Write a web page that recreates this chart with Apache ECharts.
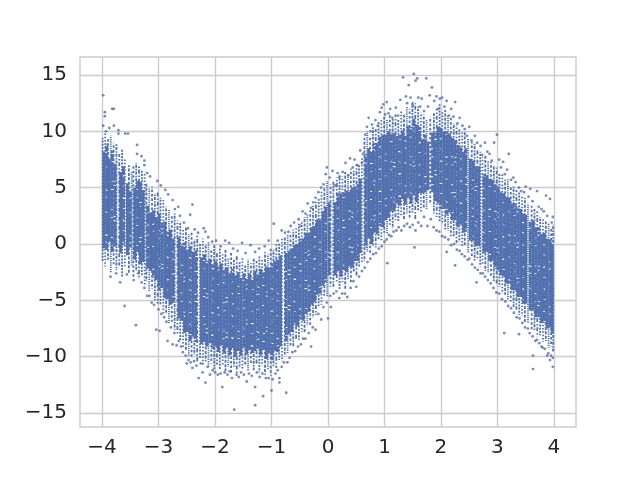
<!DOCTYPE html>
<html>
<head>
<meta charset="utf-8">
<style>html,body{margin:0;padding:0;background:#fff}#chart1{width:640px;height:480px}</style>
<script src="https://cdn.jsdelivr.net/npm/echarts@6/dist/echarts.min.js"></script>
</head>
<body>
<div id="chart1"></div>
<script>
// 图中点太密，读不出单个点：实心区按列读出上下沿 [x, low, high]，画成竖线段
let denseColumns = [
[-3.97,-0.4,8.2],[-3.92,-0.5,8.9],[-3.87,0.2,7.6],[-3.82,-0.7,8.3],[-3.77,-0.2,7.1],
[-3.67,-0.8,6.4],[-3.62,-0.1,6.9],[-3.55,-1.0,5.4],[-3.50,-0.3,4.8],
[-3.42,-1.4,5.0],[-3.37,-0.7,5.6],[-3.32,-1.8,5.5],[-3.27,-1.6,4.8],
[-3.19,-2.2,3.4],[-3.14,-2.4,2.8],[-3.09,-3.0,3.0],[-3.04,-3.2,2.4],[-2.99,-4.1,2.7],
[-2.94,-3.9,1.9],[-2.89,-4.8,2.0],[-2.84,-4.9,1.1],[-2.79,-5.4,1.3],[-2.74,-5.2,0.5],
[-2.64,-6.6,0.6],[-2.59,-6.9,0.0],[-2.54,-7.9,0.2],[-2.49,-7.8,-0.5],[-2.44,-8.6,-0.2],
[-2.39,-8.2,-0.7],[-2.34,-8.7,-0.6],[-2.24,-8.9,-1.2],[-2.19,-8.7,-0.9],[-2.14,-9.1,-1.5],
[-2.09,-8.8,-1.3],[-2.04,-9.3,-1.8],[-1.99,-9.1,-1.5],[-1.94,-9.6,-2.0],[-1.89,-9.0,-1.7],
[-1.84,-9.7,-2.3],[-1.79,-9.2,-2.0],[-1.74,-9.9,-2.6],[-1.69,-9.3,-2.2],[-1.64,-10.0,-2.8],
[-1.59,-9.5,-2.5],[-1.54,-9.9,-3.0],[-1.49,-9.2,-2.6],[-1.44,-9.8,-3.1],[-1.39,-9.4,-2.6],
[-1.34,-9.7,-3.0],[-1.29,-9.5,-2.4],[-1.24,-9.3,-2.7],[-1.19,-9.9,-2.2],[-1.14,-9.4,-2.5],
[-1.09,-10.2,-2.0],[-1.04,-9.7,-2.1],[-0.99,-10.3,-1.7],[-0.94,-9.5,-1.5],[-0.89,-9.6,-1.4],
[-0.84,-9.1,-1.0],[-0.74,-8.6,-0.8],[-0.69,-8.0,-0.6],[-0.64,-7.8,-0.4],[-0.59,-7.2,-0.1],
[-0.54,-7.3,0.0],[-0.49,-6.7,0.5],[-0.44,-6.8,0.5],[-0.39,-6.2,1.0],[-0.34,-6.0,1.0],
[-0.29,-5.4,1.5],[-0.24,-5.2,1.6],[-0.19,-4.5,2.2],[-0.14,-4.5,2.2],[-0.09,-3.7,2.9],
[-0.04,-3.4,3.3],[0.02,-2.8,3.7],[0.13,-2.8,3.7],[0.18,-2.4,4.5],[0.23,-2.9,4.5],
[0.28,-2.3,4.6],[0.33,-2.5,4.7],[0.38,-2.0,4.8],[0.43,-2.1,5.0],[0.48,-1.5,5.1],
[0.53,-1.5,5.3],[0.57,-0.8,5.8],[0.67,-0.3,8.0],[0.72,0.5,8.5],[0.77,0.0,8.2],
[0.82,1.0,9.0],[0.87,0.9,9.0],[0.92,1.6,9.5],[0.97,1.5,9.7],[1.02,2.1,9.7],
[1.07,2.3,10.0],[1.12,2.9,9.9],[1.17,2.9,9.8],[1.22,3.6,9.6],[1.27,3.4,9.7],
[1.32,4.0,10.1],[1.37,3.5,9.6],[1.42,4.1,10.5],[1.47,3.6,10.4],[1.52,4.3,11.1],
[1.57,3.7,10.6],[1.62,4.5,10.4],[1.67,4.5,9.3],[1.72,4.6,9.7],[1.77,4.8,9.1],
[1.85,4.6,9.9],[1.90,3.8,9.9],[1.95,3.6,10.4],[2.00,3.1,10.3],[2.05,3.1,10.0],
[2.10,2.6,10.0],[2.15,2.8,9.8],[2.20,2.1,9.4],[2.25,2.1,9.2],[2.30,1.5,8.8],
[2.35,1.6,8.7],[2.40,1.0,8.2],[2.44,1.1,8.5],[2.52,0.3,7.6],[2.57,0.3,7.4],
[2.62,-0.2,6.9],[2.67,-0.2,6.9],[2.76,-0.8,6.2],[2.81,-0.7,6.1],[2.86,-1.5,5.8],
[2.91,-1.5,5.7],[2.96,-2.2,5.3],[3.01,-2.3,5.1],[3.06,-2.8,4.6],[3.11,-2.9,4.5],
[3.16,-3.5,4.2],[3.21,-3.5,4.2],[3.26,-4.1,3.6],[3.31,-4.1,3.6],[3.36,-4.7,3.3],
[3.41,-4.7,3.1],[3.46,-5.3,2.7],[3.50,-5.3,2.6],[3.58,-6.0,2.1],[3.63,-5.9,2.1],
[3.68,-6.5,1.5],[3.73,-6.5,1.5],[3.78,-7.0,0.9],[3.83,-7.0,1.0],[3.88,-7.5,0.5],
[3.93,-7.4,0.4],[3.97,-7.9,0.0]
];

// 稀疏一些的列 [x, low, high]，画成点状竖线
let looseColumns = [
[-3.99,-1.5,9.4],[-3.945,-2.0,10.0],[-3.895,-1.4,9.3],[-3.845,-2.6,9.6],[-3.795,-1.8,9.0],[-3.745,-2.3,8.9],[-3.695,-1.9,8.0],[-3.645,-2.9,8.4],
[-3.595,-2.0,7.6],[-3.525,-2.6,7.0],[-3.475,-2.0,6.4],[-3.445,-3.0,6.9],[-3.395,-2.4,7.2],[-3.345,-3.1,7.0],[-3.295,-2.8,6.6],[-3.245,-3.6,6.4],
[-3.215,-3.3,5.4],[-3.165,-4.2,4.9],[-3.115,-4.0,5.1],[-3.065,-5.0,4.4],[-3.015,-5.3,4.6],[-2.965,-5.4,4.1],[-2.915,-6.2,3.9],[-2.865,-6.1,3.3],
[-2.815,-7.0,3.1],[-2.765,-6.9,2.5],[-2.715,-7.6,2.7],[-2.665,-8.0,2.1],[-2.615,-8.6,2.0],[-2.565,-9.2,1.4],[-2.515,-9.5,1.5],[-2.465,-10.0,0.9],
[-2.415,-10.1,1.1],[-2.365,-9.8,0.4],[-2.315,-10.5,0.8],[-2.265,-10.2,0.1],[-2.215,-10.8,0.5],[-2.165,-10.4,-0.1],[-2.115,-10.9,0.2],[-2.065,-10.6,-0.4],
[-2.015,-11.1,-0.1],[-1.965,-10.7,-0.7],[-1.915,-11.2,-0.4],[-1.865,-10.8,-0.9],[-1.815,-11.3,-0.5],[-1.765,-10.9,-1.2],[-1.715,-11.4,-0.8],[-1.665,-10.9,-1.4],
[-1.615,-11.5,-1.0],[-1.565,-11.0,-1.6],[-1.515,-11.2,-1.2],[-1.465,-10.8,-1.9],[-1.415,-11.3,-1.4],[-1.365,-10.7,-1.7],[-1.315,-11.2,-1.3],[-1.265,-10.7,-1.5],
[-1.215,-11.4,-1.1],[-1.165,-10.8,-1.3],[-1.115,-11.6,-0.7],[-1.065,-11.1,-0.9],[-1.015,-11.7,-0.3],[-0.965,-10.9,-0.5],[-0.915,-11.0,0.0],[-0.865,-10.3,0.1],
[-0.815,-10.4,0.5],[-0.765,-9.8,0.6],[-0.715,-9.7,0.9],[-0.665,-9.0,1.0],[-0.615,-9.1,1.3],[-0.565,-8.4,1.4],[-0.515,-8.5,1.8],[-0.465,-7.8,2.1],
[-0.415,-7.9,2.4],[-0.365,-7.2,2.7],[-0.315,-7.3,3.0],[-0.265,-6.5,3.4],[-0.215,-6.3,3.8],[-0.165,-5.5,4.1],[-0.115,-5.4,4.7],[-0.065,-4.6,5.0],
[-0.015,-4.7,5.6],[0.045,-3.8,5.3],[0.095,-3.9,5.6],[0.155,-3.3,5.9],[0.205,-4.0,6.1],[0.255,-3.4,6.0],[0.305,-4.0,6.4],[0.355,-3.1,6.2],
[0.405,-3.4,6.7],[0.455,-2.5,6.5],[0.505,-2.8,7.1],[0.55,-2.0,7.0],[0.60,-1.6,7.7],[0.645,-1.5,9.4],[0.695,-0.7,10.0],[0.745,-0.9,9.6],
[0.795,-0.2,10.4],[0.845,-0.3,10.2],[0.895,0.4,10.9],[0.945,0.3,11.0],[0.995,1.0,11.3],[1.045,0.9,11.1],[1.095,1.7,11.6],[1.145,1.4,11.2],
[1.195,2.1,11.5],[1.245,2.0,11.1],[1.295,2.5,11.9],[1.345,2.2,11.5],[1.395,2.7,12.2],[1.445,2.3,12.0],[1.495,2.8,12.6],[1.545,2.2,12.5],
[1.595,2.9,12.2],[1.645,2.8,11.7],[1.695,3.1,11.5],[1.745,3.1,11.0],[1.81,3.5,11.3],[1.875,2.7,11.6],[1.925,2.4,12.0],[1.975,1.9,12.4],
[2.025,1.8,11.8],[2.075,1.3,11.9],[2.125,1.2,11.4],[2.175,0.7,11.2],[2.225,0.7,10.7],[2.275,0.1,10.6],[2.325,0.2,10.2],[2.375,-0.3,9.9],
[2.42,-0.1,10.0],[2.48,-0.8,9.4],[2.545,-1.1,9.1],[2.595,-1.5,8.9],[2.645,-1.4,8.4],[2.695,-2.0,8.2],[2.735,-1.9,7.7],[2.785,-2.4,7.9],
[2.835,-2.5,7.4],[2.885,-3.0,7.3],[2.935,-3.3,7.0],[2.985,-3.7,6.8],[3.035,-3.8,6.3],[3.085,-4.4,6.2],[3.135,-4.5,5.7],[3.185,-5.0,5.8],
[3.235,-5.1,5.2],[3.285,-5.6,5.1],[3.335,-5.8,4.8],[3.385,-6.3,4.7],[3.435,-6.4,4.3],[3.485,-7.0,4.1],[3.54,-7.0,3.6],[3.605,-7.6,3.4],
[3.655,-7.7,3.1],[3.705,-8.2,2.9],[3.755,-8.1,2.4],[3.805,-8.7,2.3],[3.855,-8.6,2.0],[3.905,-9.2,1.9],[3.95,-9.1,1.5],[3.985,-9.6,1.7]
];

// 上沿散点 [x, y]
let upperDots = [
[-3.98,13.2],[-3.95,11.7],[-3.95,11.35],[-3.82,12],[-3.79,12],[-3.98,10.5],[-3.93,10],[-3.87,10.3],[-3.79,10.5],[-3.71,10.1],
[-3.71,9.8],[-3.59,9.8],[-3.54,9.8],[-3.38,8.8],[-3.38,8],[-3.3,7.8],[-3.25,7.4],[-3.25,7],[-3.2,6.3],[-3.15,6],
[-3.02,5.6],[-2.96,5.2],[-2.88,4.8],[-2.83,4.4],[-2.75,3.9],[-2.71,3.1],[-2.65,3.3],[-2.62,2.5],[-2.55,1.9],[-2.48,1.4],
[-2.44,2.6],[-2.4,3.5],[-2.36,1.3],[-2.3,1.0],[-2.2,1.4],[-2.17,1.1],[-2.12,0.6],[-2.05,0.2],[-1.98,0.3],[-1.9,-0.2],
[-1.82,0.3],[-1.75,0.1],[-1.68,-0.4],[-1.6,-0.6],[-1.52,0.1],[-1.46,-0.8],[-1.37,-0.1],[-1.29,-0.7],[-1.22,-0.4],[-1.12,-0.2],
[-1.05,0.3],[-0.96,1.8],[-0.89,0.3],[-0.82,1.2],[-0.76,1.0],[-0.7,1.1],[-0.66,1.6],[-0.6,1.9],[-0.52,2.2],[-0.48,1.6],
[-0.45,2.9],[-0.4,2.7],[-0.36,3.6],[-0.3,3.2],[-0.26,3.7],[-0.22,4.1],[-0.17,4.6],[-0.12,5.0],[-0.08,5.3],[-0.04,6.2],
[-0.02,6.8],[0.03,5.9],[0.08,6.5],[0.12,5.2],[0.17,6.3],[0.2,5.9],[0.26,6.4],[0.31,7.2],[0.36,6.1],[0.39,7.6],
[0.44,6.8],[0.47,7.5],[0.52,7.0],[0.57,8.3],[0.6,7.2],[0.62,8.0],[0.66,9.7],[0.69,10.4],[0.72,11.2],[0.75,10.0],
[0.78,10.6],[0.84,11.0],[0.88,10.5],[0.92,11.7],[0.95,12.1],[0.98,12.4],[1.01,11.5],[1.04,12.6],[1.07,11.6],[1.1,12.0],
[1.14,11.2],[1.2,12.1],[1.24,11.4],[1.28,12.8],[1.33,14.8],[1.38,13.1],[1.43,14.1],[1.4,12.5],[1.46,13.0],[1.5,12.3],
[1.52,15.1],[1.55,14.5],[1.58,14.7],[1.6,13.0],[1.63,12.2],[1.66,12.9],[1.7,11.8],[1.74,14.7],[1.77,12.2],[1.8,13.2],
[1.84,13.9],[1.88,12.7],[1.92,13.1],[1.95,12.0],[1.98,12.9],[2.02,13.0],[2.06,12.2],[2.1,12.7],[2.14,11.4],[2.18,12.0],
[2.22,11.3],[2.25,12.6],[2.29,10.7],[2.33,11.2],[2.38,10.5],[2.42,10.2],[2.46,9.6],[2.5,10.4],[2.54,9.2],[2.6,9.6],
[2.64,9.0],[2.7,8.7],[2.73,7.9],[2.78,9.0],[2.82,8.2],[2.86,8.0],[2.9,7.4],[2.94,9.0],[2.99,9.7],[3.03,7.5],
[3.06,6.8],[3.1,7.3],[3.13,6.2],[3.17,6.6],[3.2,8.0],[3.24,5.7],[3.28,5.9],[3.32,5.5],[3.38,5.0],[3.42,4.7],
[3.47,4.6],[3.5,5.1],[3.55,4.2],[3.58,4.9],[3.62,3.8],[3.7,4.7],[3.73,3.3],[3.78,3.1],[3.82,2.9],[3.86,4.3],
[3.88,2.5],[3.93,4.0],[3.96,1.9],[3.98,2.4]
];

// 下沿散点 [x, y]
let lowerDots = [
[-3.85,-2.9],[-3.75,-2.6],[-3.68,-3.4],[-3.6,-5.5],[-3.56,-2.7],[-3.44,-3.2],[-3.4,-7.2],[-3.36,-2.6],[-3.3,-3.4],[-3.25,-3.9],
[-3.2,-4.6],[-3.16,-4.6],[-3.12,-5.2],[-3.08,-5.4],[-3.04,-7.6],[-3.0,-5.8],[-2.98,-7.7],[-2.95,-6.2],[-2.9,-6.5],[-2.86,-6.9],
[-2.84,-8.6],[-2.78,-7.4],[-2.75,-8.9],[-2.72,-7.9],[-2.68,-9.0],[-2.64,-8.6],[-2.6,-9.1],[-2.57,-9.6],[-2.52,-9.9],[-2.5,-10.6],
[-2.47,-10.3],[-2.43,-10.5],[-2.4,-11.0],[-2.37,-10.4],[-2.33,-10.8],[-2.29,-11.9],[-2.25,-10.6],[-2.22,-11.4],[-2.17,-12.3],[-2.13,-10.9],
[-2.09,-11.6],[-2.04,-11.2],[-2.0,-11.4],[-1.95,-11.6],[-1.9,-11.5],[-1.87,-12.7],[-1.83,-11.4],[-1.78,-11.6],[-1.74,-11.3],[-1.7,-11.9],
[-1.66,-14.7],[-1.62,-11.6],[-1.58,-11.8],[-1.54,-11.4],[-1.49,-11.6],[-1.44,-12.2],[-1.4,-11.5],[-1.35,-11.7],[-1.29,-14.3],[-1.29,-12.7],
[-1.26,-11.4],[-1.21,-11.8],[-1.16,-11.5],[-1.15,-13.5],[-1.1,-11.9],[-1.05,-11.9],[-1.0,-13.0],[-0.98,-12.0],[-0.93,-11.5],[-0.89,-11.2],
[-0.86,-11.9],[-0.86,-12.3],[-0.82,-10.9],[-0.78,-10.5],[-0.74,-13.2],[-0.72,-10.5],[-0.68,-10.1],[-0.63,-9.6],[-0.58,-9.5],[-0.53,-9.1],
[-0.48,-8.9],[-0.44,-8.4],[-0.4,-8.4],[-0.34,-7.9],[-0.3,-9.1],[-0.27,-7.4],[-0.22,-7.6],[-0.17,-6.2],[-0.12,-6.7],[-0.08,-5.6],
[-0.02,-5.2],[0.0,-6.6],[0.05,-5.6],[0.04,-4.6],[0.1,-4.4],[0.15,-4.2],[0.2,-4.8],[0.25,-4.4],[0.3,-4.4],[0.34,-4.7],
[0.4,-3.9],[0.45,-3.3],[0.5,-3.8],[0.55,-2.9],[0.6,-2.4],[0.65,-2.1],[0.7,-1.6],[0.75,-1.3],[0.8,-0.9],[0.85,-0.8],
[0.9,-0.4],[0.95,-0.2],[1.05,-1.7],[1.0,0.2],[1.04,0.4],[1.08,0.8],[1.12,0.7],[1.16,1.1],[1.21,1.2],[1.25,1.5],
[1.3,1.2],[1.35,1.6],[1.4,1.8],[1.45,1.5],[1.5,1.7],[1.53,-0.3],[1.55,1.2],[1.6,1.9],[1.65,1.6],[1.7,2.4],
[1.76,1.6],[1.82,2.2],[1.87,1.5],[1.92,1.2],[1.97,1.1],[2.02,0.7],[2.07,0.6],[2.1,-0.7],[2.13,0.4],[2.18,-0.1],
[2.25,-1.9],[2.23,0.0],[2.28,-0.5],[2.33,-0.6],[2.37,-0.9],[2.42,-1.1],[2.47,-1.4],[2.5,-1.3],[2.55,-1.8],[2.6,-2.1],
[2.63,-3.4],[2.65,-2.3],[2.7,-2.6],[2.74,-2.6],[2.78,-2.9],[2.83,-3.2],[2.88,-3.5],[2.93,-3.9],[2.98,-4.3],[3.03,-4.4],
[3.08,-4.9],[3.12,-7.9],[3.14,-5.1],[3.19,-5.5],[3.24,-5.7],[3.29,-6.1],[3.34,-6.5],[3.38,-8.0],[3.39,-6.6],[3.44,-7.0],
[3.49,-7.4],[3.54,-7.5],[3.57,-7.9],[3.63,-9.9],[3.63,-11.1],[3.62,-8.2],[3.67,-8.6],[3.7,-8.5],[3.74,-8.8],[3.78,-9.1],
[3.8,-9.2],[3.84,-9.3],[3.88,-9.9],[3.9,-9.7],[3.93,-10.3],[3.95,-9.9],[3.98,-10.9],[3.98,-10.1]
];

let xTicks = [-4, -3, -2, -1, 0, 1, 2, 3, 4];
let yTicks = [-15, -10, -5, 0, 5, 10, 15];

let chart1 = echarts.init(document.getElementById("chart1"));

let dotColor = '#5270ae';
let gridColor = '#cccccc';

// 线段的断点样式，让竖条不要排成规则的格子
let denseDashes = [[40, 0], [14, 1, 6, 1.2, 22, 0.8], [40, 0], [7, 1, 19, 1], [30, 1.2, 3, 1], [40, 0], [11, 0.8, 9, 1.4]];
let looseDashes = [[2, 1.2], [1.5, 1.8], [3, 1.4], [1.2, 1], [2.5, 2], [1.6, 1.2, 3, 1], [4, 1.6, 1.5, 2]];

function axisStyle(ticks, margin) {
    return {
        type: 'value',
        axisLine: { show: false },
        axisTick: { show: false, customValues: ticks },
        splitLine: { lineStyle: { color: gridColor, width: 1.4 } },
        axisLabel: {
            color: '#262626',
            fontFamily: 'DejaVu Sans',
            fontSize: 20,
            margin: margin,
            customValues: ticks,
            formatter: function (v) {
                return String(v).replace('-', '\u2212');
            }
        }
    };
}

function columnSeries(columns, width, dashes) {
    return {
        type: 'custom',
        silent: true,
        data: columns,
        encode: { x: 0, y: [1, 2] },
        renderItem: function (params, api) {
            let i = params.dataIndex;
            let a = api.coord([api.value(0), api.value(1)]);
            let b = api.coord([api.value(0), api.value(2)]);
            return {
                type: 'line',
                shape: { x1: a[0], y1: a[1], x2: b[0], y2: b[1] },
                style: {
                    stroke: dotColor,
                    lineWidth: width,
                    lineDash: dashes[i % dashes.length],
                    lineDashOffset: (i * 7) % 23
                }
            };
        }
    };
}

let option = {
    backgroundColor: '#fff',
    animation: false,
    grid: {
        left: 80, top: 57, width: 496, height: 370,
        show: true,
        borderColor: gridColor,
        borderWidth: 1.4
    },
    xAxis: Object.assign(axisStyle(xTicks, 11), { min: -4.39, max: 4.39 }),
    yAxis: Object.assign(axisStyle(yTicks, 13), { min: -16.24, max: 16.6 }),
    series: [
        columnSeries(looseColumns, 1.8, looseDashes),
        columnSeries(denseColumns, 2.8, denseDashes),
        {
            type: 'scatter',
            symbolSize: 2.8,
            itemStyle: { color: dotColor },
            data: upperDots.concat(lowerDots)
        }
    ]
};
chart1.setOption(option);
</script>
</body>
</html>
